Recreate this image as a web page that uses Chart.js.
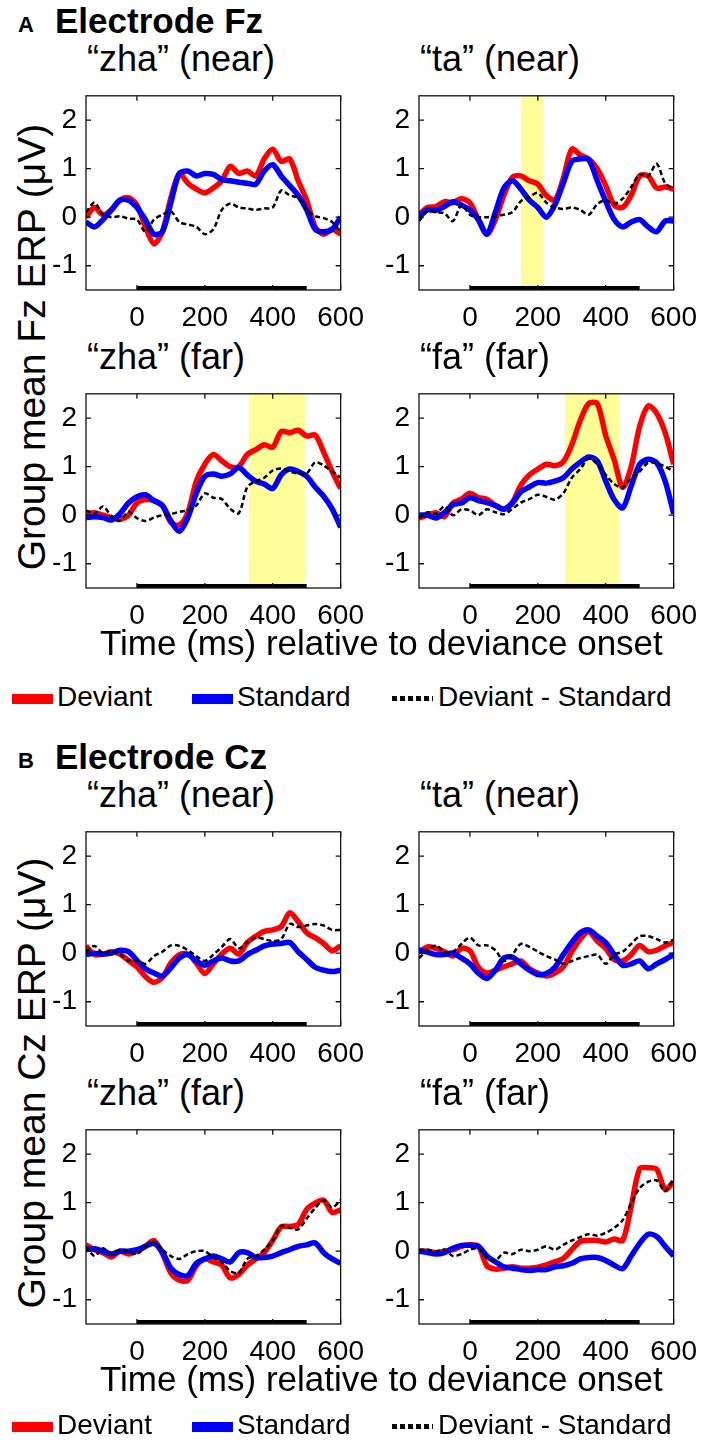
<!DOCTYPE html>
<html>
<head>
<meta charset="utf-8">
<script src="https://cdn.jsdelivr.net/npm/chart.js@4.4.0/dist/chart.umd.min.js"></script>
<style>
body { margin: 0; background: #fff; width: 708px; height: 1454px; position: relative; overflow: hidden;
       font-family: 'Liberation Sans', Arial, sans-serif; color: #000; }
.t { position: absolute; white-space: nowrap; line-height: 1; }
canvas { position: absolute; }
.sw { position: absolute; }
</style>
</head>
<body>
<script>
// time axis (ms relative to deviance onset), 25 ms steps
var timeMs = [-150,-125,-100,-75,-50,-25,0,25,50,75,100,125,150,175,200,225,250,275,300,325,350,375,400,425,450,475,500,525,550,575,600];
var xTicks = [0, 200, 400, 600];
var yTicks = [-1, 0, 1, 2];
var onsetBar = [0, 500];

// Electrode Fz
var fzZhaNearDev = [0.0,0.2,0.05,0.15,0.35,0.4,0.25,-0.2,-0.55,-0.3,0.4,0.9,0.7,0.58,0.5,0.6,0.75,1.05,0.9,0.95,0.85,1.2,1.4,1.15,1.2,0.75,0.35,-0.2,-0.35,-0.25,-0.35];
var fzZhaNearStd = [-0.1,-0.2,-0.05,0.15,0.35,0.35,0.2,-0.05,-0.35,-0.3,0.3,0.9,0.95,0.85,0.9,0.88,0.78,0.75,0.72,0.7,0.68,0.95,1.08,0.85,0.65,0.45,0.15,-0.25,-0.3,-0.25,0.0];
var fzZhaNearDiff = [0.1,0.3,0.05,0.0,0.02,-0.03,-0.05,-0.3,-0.05,0.05,0.12,-0.1,-0.15,-0.2,-0.35,-0.25,0.15,0.28,0.2,0.18,0.15,0.18,0.2,0.55,0.45,0.4,0.15,0.02,-0.02,-0.1,-0.3];

var fzTaNearDev = [0.05,0.2,0.22,0.32,0.3,0.38,0.3,-0.05,-0.35,-0.05,0.45,0.82,0.85,0.75,0.68,0.45,0.35,0.8,1.4,1.28,1.2,1.0,0.65,0.25,0.2,0.45,0.85,0.85,0.6,0.62,0.58];
var fzTaNearStd = [0.0,0.15,0.14,0.22,0.32,0.25,0.15,-0.05,-0.35,0.1,0.6,0.75,0.58,0.35,0.2,0.0,0.25,0.7,1.15,1.2,1.18,0.75,0.33,-0.05,-0.2,-0.1,-0.05,-0.2,-0.3,-0.08,-0.08];
var fzTaNearDiff = [-0.08,0.12,0.1,0.08,-0.08,0.25,0.05,0.0,0.0,0.02,0.05,0.1,0.33,0.42,0.5,0.3,0.2,0.17,0.2,0.15,0.05,0.27,0.35,0.28,0.38,0.62,0.88,0.85,1.1,0.7,0.58];
var fzTaNearWindow = [150, 215];

var fzZhaFarDev = [0.03,0.05,0.0,-0.05,-0.08,0.0,0.25,0.32,0.3,0.2,-0.15,-0.2,0.05,0.7,1.05,1.25,1.12,1.0,1.0,1.25,1.35,1.45,1.4,1.72,1.7,1.75,1.63,1.65,1.3,0.9,0.55];
var fzZhaFarStd = [-0.05,-0.03,-0.05,-0.1,0.03,0.25,0.38,0.42,0.3,0.2,-0.12,-0.33,-0.05,0.45,0.8,0.85,0.8,0.85,0.98,0.83,0.7,0.64,0.55,0.83,0.95,0.9,0.8,0.58,0.39,0.13,-0.25];
var fzZhaFarDiff = [0.1,0.03,0.18,-0.02,-0.12,0.07,-0.06,-0.12,-0.05,0.0,0.02,0.07,0.1,0.2,0.45,0.36,0.33,0.13,0.04,0.58,0.7,0.77,0.92,0.96,0.9,0.86,0.86,1.09,1.02,0.9,0.77];
var fzZhaFarWindow = [330, 495];

var fzFaFarDev = [-0.06,0.0,0.05,-0.03,0.25,0.33,0.45,0.36,0.33,0.2,0.13,0.26,0.62,0.83,0.95,1.05,1.02,1.1,1.45,1.95,2.3,2.3,1.64,1.14,0.57,1.0,1.83,2.25,2.1,1.7,1.05];
var fzFaFarStd = [0.0,0.0,-0.06,0.05,0.22,0.25,0.36,0.3,0.26,0.2,0.12,0.25,0.48,0.58,0.67,0.66,0.7,0.77,0.95,1.09,1.2,1.12,0.7,0.32,0.15,0.6,1.05,1.15,1.08,0.7,0.03];
var fzFaFarDiff = [-0.06,0.06,0.03,0.18,0.0,0.12,0.1,0.0,0.12,0.06,0.02,0.13,0.26,0.33,0.42,0.38,0.32,0.45,0.77,0.95,1.17,1.05,0.83,0.64,0.57,0.77,0.9,1.08,1.07,1.0,0.9];
var fzFaFarWindow = [280, 440];

// Electrode Cz
var czZhaNearDev = [0.15,-0.03,-0.02,0.03,-0.02,-0.15,-0.28,-0.48,-0.6,-0.5,-0.2,-0.03,-0.02,-0.2,-0.42,-0.22,-0.02,0.1,-0.02,0.22,0.35,0.45,0.48,0.55,0.83,0.65,0.42,0.32,0.2,0.05,0.15];
var czZhaNearStd = [-0.03,0.0,-0.02,0.0,0.06,0.03,-0.15,-0.32,-0.41,-0.47,-0.3,-0.1,-0.03,-0.16,-0.25,-0.16,-0.1,-0.16,-0.16,-0.03,0.06,0.15,0.19,0.2,0.22,0.03,-0.13,-0.29,-0.35,-0.38,-0.35];
var czZhaNearDiff = [0.03,0.15,0.0,0.05,-0.02,-0.15,-0.15,-0.22,-0.06,0.03,0.16,0.15,0.06,-0.06,-0.16,-0.03,0.13,0.29,0.1,0.22,0.32,0.29,0.25,0.29,0.6,0.54,0.57,0.6,0.57,0.48,0.48];

var czTaNearDev = [0.03,0.13,0.1,0.03,-0.06,0.1,0.05,-0.29,-0.41,-0.35,-0.28,-0.22,-0.16,-0.32,-0.41,-0.47,-0.41,-0.28,0.03,0.29,0.44,0.25,0.1,-0.13,-0.16,-0.03,0.16,0.03,0.06,0.15,0.22];
var czTaNearStd = [0.06,0.02,-0.03,-0.03,0.0,-0.1,-0.22,-0.41,-0.52,-0.35,-0.1,-0.08,-0.22,-0.35,-0.44,-0.42,-0.29,-0.03,0.22,0.42,0.48,0.35,0.22,-0.03,-0.25,-0.22,-0.16,-0.32,-0.22,-0.13,-0.03];
var czTaNearDiff = [-0.1,0.06,0.16,0.03,0.03,0.19,0.32,0.16,0.16,0.06,-0.16,-0.03,0.19,0.13,0.03,-0.06,-0.13,-0.22,-0.16,-0.1,-0.06,-0.03,-0.22,-0.03,0.03,0.19,0.35,0.35,0.29,0.22,0.28];

var czZhaFarDev = [0.13,0.03,-0.03,-0.12,0.0,-0.06,0.0,0.1,0.22,-0.05,-0.45,-0.6,-0.6,-0.3,-0.16,-0.22,-0.29,-0.55,-0.48,-0.29,-0.16,-0.03,0.22,0.5,0.51,0.55,0.86,0.99,1.05,0.8,0.85];
var czZhaFarStd = [0.03,0.05,0.0,-0.06,0.0,0.0,0.03,0.1,0.16,-0.02,-0.35,-0.48,-0.5,-0.25,-0.16,-0.1,-0.16,-0.22,-0.03,-0.03,-0.13,-0.13,-0.1,-0.03,0.03,0.1,0.13,0.17,-0.03,-0.16,-0.25];
var czZhaFarDiff = [0.1,-0.1,0.06,-0.06,0.03,0.0,-0.06,0.1,0.19,0.03,-0.1,-0.16,-0.06,0.0,0.0,-0.13,-0.22,-0.41,-0.45,-0.16,-0.1,0.03,0.22,0.52,0.48,0.45,0.67,0.89,1.05,0.9,1.05];

var czFaFarDev = [0.0,0.0,-0.03,0.0,0.03,0.1,0.13,0.1,-0.3,-0.37,-0.35,-0.32,-0.35,-0.35,-0.33,-0.28,-0.22,-0.15,0.03,0.2,0.22,0.22,0.19,0.25,0.22,0.92,1.7,1.72,1.69,1.27,1.43];
var czFaFarStd = [0.0,-0.03,-0.06,-0.03,0.06,0.12,0.12,0.1,-0.1,-0.22,-0.32,-0.35,-0.38,-0.4,-0.38,-0.38,-0.32,-0.3,-0.25,-0.16,-0.13,-0.13,-0.19,-0.29,-0.36,-0.1,0.16,0.35,0.3,0.1,-0.1];
var czFaFarDiff = [0.03,0.03,0.0,0.03,-0.1,-0.06,0.03,0.06,-0.13,-0.19,-0.03,-0.06,0.03,0.0,0.03,0.1,0.03,0.13,0.22,0.29,0.35,0.32,0.38,0.48,0.64,0.99,1.3,1.43,1.46,1.24,1.5];

var xMin = -150, xMax = 600, yMin = -1.5, yMax = 2.5;
var FONT = "'Liberation Sans', Arial, sans-serif";

Chart.defaults.font.family = FONT;
Chart.defaults.color = '#000';

function pts(arr) {
  return timeMs.map(function (t, i) { return { x: t, y: arr[i] }; });
}

// axes box + inward tick marks, matlab style
var boxPlugin = {
  id: 'box',
  afterDatasetsDraw: function (chart) {
    var ctx = chart.ctx, a = chart.chartArea, xs = chart.scales.x, ys = chart.scales.y;
    ctx.save();
    ctx.strokeStyle = '#111';
    ctx.lineWidth = 1.3;
    ctx.strokeRect(a.left, a.top, a.right - a.left, a.bottom - a.top);
    ctx.beginPath();
    xTicks.forEach(function (v) {
      var px = xs.getPixelForValue(v);
      ctx.moveTo(px, a.top); ctx.lineTo(px, a.top + 5);
      ctx.moveTo(px, a.bottom); ctx.lineTo(px, a.bottom - 5);
    });
    yTicks.forEach(function (v) {
      var py = ys.getPixelForValue(v);
      ctx.moveTo(a.left, py); ctx.lineTo(a.left + 5, py);
      ctx.moveTo(a.right, py); ctx.lineTo(a.right - 5, py);
    });
    ctx.stroke();
    ctx.restore();
  }
};

var padL = 56, padT = 10, padR = 32, padB = 45;

function panel(box, dev, std, diff, win) {
  var w = box[2] - box[0] + padL + padR, h = box[3] - box[1] + padT + padB;
  var cv = document.createElement('canvas');
  cv.width = w; cv.height = h;
  cv.style.left = (box[0] - padL) + 'px';
  cv.style.top = (box[1] - padT) + 'px';
  cv.style.width = w + 'px'; cv.style.height = h + 'px';
  document.body.appendChild(cv);

  var sets = [
    { label: 'stimulus', data: onsetBar.map(function (t) { return { x: t, y: yMin }; }),
      borderColor: '#000', borderWidth: 8, pointRadius: 0, order: 0 },
    { label: 'Deviant - Standard', data: pts(diff), borderColor: '#000', borderWidth: 2.5,
      borderDash: [5, 3], pointRadius: 0, tension: 0.3, order: 1 },
    { label: 'Standard', data: pts(std), borderColor: '#0000ff', borderWidth: 5.5,
      pointRadius: 0, tension: 0.3, order: 2 },
    { label: 'Deviant', data: pts(dev), borderColor: '#ff0000', borderWidth: 5.5,
      pointRadius: 0, tension: 0.3, order: 3 }
  ];
  if (win) {
    sets.push({ label: 'window', data: win.map(function (t) { return { x: t, y: yMax }; }),
      borderWidth: 0, backgroundColor: '#ffff99', fill: 'start', pointRadius: 0, order: 4 });
  }

  new Chart(cv.getContext('2d'), {
    type: 'line',
    data: { datasets: sets },
    options: {
      responsive: false,
      animation: false,
      devicePixelRatio: 1,
      layout: { autoPadding: false, padding: { left: 0, top: padT, right: padR, bottom: 0 } },
      plugins: { legend: { display: false }, tooltip: { enabled: false } },
      scales: {
        x: {
          type: 'linear', min: xMin, max: xMax,
          grid: { display: false, drawTicks: false }, border: { display: false },
          afterBuildTicks: function (s) { s.ticks = xTicks.map(function (v) { return { value: v }; }); },
          afterFit: function (s) { s.height = padB; },
          ticks: { font: { size: 28 }, color: '#000', padding: 11, maxRotation: 0, autoSkip: false }
        },
        y: {
          type: 'linear', min: yMin, max: yMax,
          grid: { display: false, drawTicks: false }, border: { display: false },
          afterBuildTicks: function (s) { s.ticks = yTicks.map(function (v) { return { value: v }; }); },
          afterFit: function (s) { s.width = padL; },
          ticks: { font: { size: 28 }, color: '#000', padding: 9 }
        }
      }
    },
    plugins: [boxPlugin]
  });
}

function text(str, x, baseline, size, bold) {
  var d = document.createElement('div');
  d.className = 't';
  d.textContent = str;
  d.style.left = x + 'px';
  d.style.top = (baseline - 0.847 * size) + 'px';
  d.style.fontSize = size + 'px';
  if (bold) d.style.fontWeight = 'bold';
  document.body.appendChild(d);
  return d;
}

function vtext(str, cx, cy, size) {
  var d = document.createElement('div');
  d.className = 't';
  d.textContent = str;
  d.style.fontSize = size + 'px';
  d.style.left = cx + 'px';
  d.style.top = cy + 'px';
  d.style.transform = 'translate(-50%,-50%) rotate(-90deg)';
  document.body.appendChild(d);
}

function legend(top) {
  var parts = [
    { x: 12, bg: '#ff0000', label: 'Deviant', tx: 57 },
    { x: 192, bg: '#0000ff', label: 'Standard', tx: 237 },
    { x: 392, bg: 'repeating-linear-gradient(90deg,#000 0 5px,#fff 5px 8px)', label: 'Deviant - Standard', tx: 438 }
  ];
  parts.forEach(function (p, i) {
    var s = document.createElement('div');
    s.className = 'sw';
    s.style.left = p.x + 'px';
    s.style.width = '41px';
    s.style.top = (i === 2 ? top + 2 : top) + 'px';
    s.style.height = (i === 2 ? 5 : 10) + 'px';
    s.style.background = p.bg;
    document.body.appendChild(s);
    text(p.label, p.tx, top + 13, 28);
  });
}

var sections = [
  { dy: 0, legendTop: 694, letter: 'A', name: 'Electrode Fz', ylab: 'Group mean Fz ERP (\u03bcV)',
    data: [[fzZhaNearDev, fzZhaNearStd, fzZhaNearDiff, null],
           [fzTaNearDev, fzTaNearStd, fzTaNearDiff, fzTaNearWindow],
           [fzZhaFarDev, fzZhaFarStd, fzZhaFarDiff, fzZhaFarWindow],
           [fzFaFarDev, fzFaFarStd, fzFaFarDiff, fzFaFarWindow]] },
  { dy: 736, legendTop: 1422, letter: 'B', name: 'Electrode Cz', ylab: 'Group mean Cz ERP (\u03bcV)',
    data: [[czZhaNearDev, czZhaNearStd, czZhaNearDiff, null],
           [czTaNearDev, czTaNearStd, czTaNearDiff, null],
           [czZhaFarDev, czZhaFarStd, czZhaFarDiff, null],
           [czFaFarDev, czFaFarStd, czFaFarDiff, null]] }
];
var titles = ['\u201czha\u201d (near)', '\u201cta\u201d (near)', '\u201czha\u201d (far)', '\u201cfa\u201d (far)'];
var cols = [[86, 343], [419, 676]];
var rows = [[80, 290], [378, 588]];

sections.forEach(function (sec) {
  text(sec.letter, 18, 33 + sec.dy, 22, true);
  text(sec.name, 55, 33 + sec.dy, 35, true);
  vtext(sec.ylab, 31, 347 + sec.dy, 39);
  for (var k = 0; k < 4; k++) {
    var c = cols[k % 2], r = rows[Math.floor(k / 2)];
    var box = [c[0], r[0] + sec.dy, c[1], r[1] + sec.dy];
    text(titles[k], c[0] + 1, box[1] - 9, 36);
    var d = sec.data[k];
    panel(box, d[0], d[1], d[2], d[3]);
  }
  text('Time (ms) relative to deviance onset', 100, 655 + sec.dy, 35);
  legend(sec.legendTop);
});
</script>
</body>
</html>
